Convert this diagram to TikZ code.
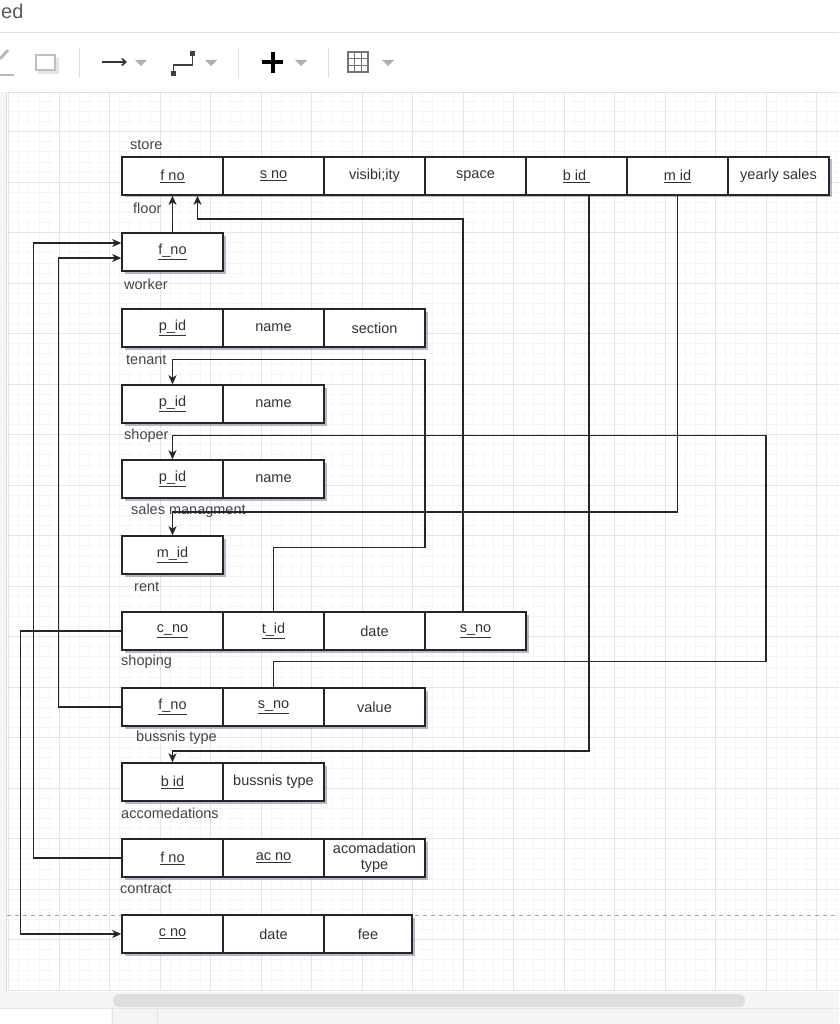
\documentclass[tikz,border=0pt]{standalone}
\usepackage{fontspec}
\setmainfont{Liberation Sans}
\usetikzlibrary{arrows.meta,shadows}
\definecolor{txt}{HTML}{333333}
\definecolor{lblc}{HTML}{454545}
\definecolor{gmin}{HTML}{F5F5F5}
\definecolor{gmaj}{HTML}{E4E4E4}
\definecolor{edge}{HTML}{262626}
\definecolor{uigray}{HTML}{9A9A9A}
\begin{document}
\begin{tikzpicture}[x=1pt,y=-1pt,
  cell/.style={draw=edge, line width=1.5pt, fill=white, minimum width=101pt,
    minimum height=38pt, inner sep=0pt, text=txt, align=center,
    font=\fontsize{14.5}{15}\selectfont,
    drop shadow={shadow xshift=2.5pt, shadow yshift=-2.5pt, opacity=0.28, fill=black!70!blue}},
  lbl/.style={anchor=west, inner sep=0pt, text=lblc, font=\fontsize{14.5}{16}\selectfont},
  conn/.style={draw=edge, line width=1.5pt, -{Stealth[length=9pt,width=8pt,inset=2.5pt]}},
  tri/.style={fill=uigray!80, draw=none},
  sep/.style={draw=black!12, line width=0.8pt}
]
% ---------- frame / UI ----------
\useasboundingbox (0,0) rectangle (839,1024);
\fill[white] (0,0) rectangle (839,1024);
\draw[black!12, line width=0.8pt] (0,32.5) -- (839,32.5);
\node[anchor=west, inner sep=0pt, text=black!65, font=\fontsize{20}{20}\selectfont] (edtxt) at (1,11) {ed};
% toolbar icons
\draw[uigray!70, line width=3pt] (0,59) -- (8,50);
\draw[uigray!70, line width=2.5pt] (0,75) -- (14,75);
\fill[black!10] (38,58) rectangle (59,74);
\draw[black!25, line width=1.5pt, fill=white] (36,55) rectangle (55,70);
\draw[sep] (79.5,48) -- (79.5,78);
\draw[black!80, line width=1.6pt, -{Straight Barb[length=4pt,width=7pt]}] (102,62) -- (127,62);
\fill[tri] (135,60) -- (147,60) -- (141,66) -- cycle;
\draw[black!75, line width=1.3pt] (173.5,73) -- (173.5,65) -- (192.5,65) -- (192.5,54);
\fill[black!75] (171,71) rectangle (176,76);
\fill[black!75] (190,51) rectangle (195,56);
\fill[tri] (205,60) -- (217,60) -- (211,66) -- cycle;
\draw[sep] (238.5,48) -- (238.5,78);
\draw[black, line width=4pt] (262,62) -- (283,62);
\draw[black, line width=4pt] (272.5,52) -- (272.5,73);
\fill[tri] (295,60) -- (307,60) -- (301,66) -- cycle;
\draw[sep] (328.5,48) -- (328.5,78);
\draw[black!55, line width=1.3pt] (348,52) rectangle (368,72);
\draw[black!55, line width=1.1pt] (354.7,52) -- (354.7,72) (361.3,52) -- (361.3,72)
   (348,58.7) -- (368,58.7) (348,65.3) -- (368,65.3);
\fill[tri] (382,60) -- (394,60) -- (388,66) -- cycle;
\draw[black!12, line width=0.8pt] (0,92) -- (839,92);
% canvas and grid
\fill[black!4] (0,92) rectangle (7,992);
\draw[black!14, line width=0.8pt] (6.5,92) -- (6.5,992);
\foreach \i in {0,...,82} {
  \draw[gmin, line width=0.5pt] ({8.5+\i*10.1},93) -- ({8.5+\i*10.1},991);
}
\foreach \k in {-3,...,85} {
  \draw[gmin, line width=0.5pt] (7,{131.5+\k*10.1}) -- (839,{131.5+\k*10.1});
}
\foreach \i in {0,...,16} {
  \draw[gmaj, line width=0.8pt] ({8.5+\i*50.5},93) -- ({8.5+\i*50.5},991);
}
\foreach \k in {0,...,17} {
  \draw[gmaj, line width=0.8pt] (7,{131.5+\k*50.5}) -- (839,{131.5+\k*50.5});
}
\draw[black!35, line width=0.8pt, dash pattern=on 4pt off 4pt] (7,915) -- (839,915);
% bottom bar
\fill[black!4] (0,992) rectangle (839,1024);
\fill[white] (0,1009) rectangle (111,1024);
\draw[black!10, line width=0.8pt] (0,1008.5) -- (839,1008.5);
\draw[black!10, line width=0.8pt] (112,1008.5) -- (112,1024) (157,1008.5) -- (157,1024);
\fill[black!13, rounded corners=6pt] (113,994) rectangle (745,1007);

% ---------- labels ----------
\node[lbl] (Lstore) at (130,145) {store};
\node[lbl] (Lfloor) at (133,208) {floor};
\node[lbl] (Lworker) at (124,284) {worker};
\node[lbl] (Ltenant) at (126,360) {tenant};
\node[lbl] (Lshoper) at (124,436) {shoper};
\node[lbl] (Lsales) at (131,511) {sales managment};
\node[lbl] (Lrent) at (134,587) {rent};
\node[lbl] (Lshoping) at (121,662) {shoping};
\node[lbl] (Lbuss) at (136,738) {bussnis type};
\node[lbl] (Laccom) at (121,813) {accomedations};
\node[lbl] (Lcontract) at (120,889) {contract};

% ---------- tables ----------
% store
\node[cell] (s1) at (172.5,176) {\underline{f no}};
\node[cell] (s2) at (273.5,176) {\underline{s no}};
\node[cell] (s3) at (374.5,176) {visibi;ity};
\node[cell] (s4) at (475.5,176) {space};
\node[cell] (s5) at (576.5,176) {\underline{b id\ }};
\node[cell] (s6) at (677.5,176) {\underline{m id}};
\node[cell] (s7) at (778.5,176) {yearly sales};
% floor
\node[cell] (fl1) at (172.5,252) {\underline{f\_no}};
% worker
\node[cell] (w1) at (172.5,328) {\underline{p\_id}};
\node[cell] (w2) at (273.5,328) {name};
\node[cell] (w3) at (374.5,328) {section};
% tenant
\node[cell] (t1) at (172.5,404) {\underline{p\_id}};
\node[cell] (t2) at (273.5,404) {name};
% shoper
\node[cell] (sh1) at (172.5,479) {\underline{p\_id}};
\node[cell] (sh2) at (273.5,479) {name};
% sales managment
\node[cell] (sm1) at (172.5,555) {\underline{m\_id}};
% rent
\node[cell] (r1) at (172.5,631) {\underline{c\_no}};
\node[cell] (r2) at (273.5,631) {\underline{t\_id}};
\node[cell] (r3) at (374.5,631) {date};
\node[cell] (r4) at (475.5,631) {\underline{s\_no}};
% shoping
\node[cell] (sp1) at (172.5,707) {\underline{f\_no}};
\node[cell] (sp2) at (273.5,707) {\underline{s\_no}};
\node[cell] (sp3) at (374.5,707) {value};
% bussnis type
\node[cell] (b1) at (172.5,782) {\underline{b id}};
\node[cell] (b2) at (273.5,782) {bussnis type};
% accomedations
\node[cell] (a1) at (172.5,858) {\underline{f no}};
\node[cell] (a2) at (273.5,858) {\underline{ac no}};
\node[cell, font=\fontsize{14.5}{16}\selectfont] (a3) at (374.5,858) {acomadation\\type};
% contract
\node[cell] (c1) at (172.5,934) {\underline{c no}};
\node[cell] (c2) at (273.5,934) {date};
\node[cell, minimum width=88pt] (c3) at (368,934) {fee};

% ---------- connectors ----------
\draw[conn] (fl1.north) -- (s1.south);
\draw[conn] ([xshift=-12.5pt]r4.north) -- ++(0,-392) -| ([xshift=25pt]s1.south);
\draw[conn] ([xshift=12.5pt]s5.south) -- ++(0,555) -| (b1.north);
\draw[conn] (s6.south) -- ++(0,316) -| (sm1.north);
\draw[conn] (sp2.north) -- ++(0,-26) -| ++(492.5,-226) -| (sh1.north);
\draw[conn] (r2.north) -- ++(0,-64) -| ++(151.5,-188) -| (t1.north);
\draw[conn] (r1.west) -- ++(-101,0) |- (c1.west);
\draw[conn] (sp1.west) -- ++(-63,0) |- ([yshift=-6pt]fl1.west);
\draw[conn] (a1.west) -- ++(-88,0) |- ([yshift=9pt]fl1.west);
\end{tikzpicture}
\end{document}
